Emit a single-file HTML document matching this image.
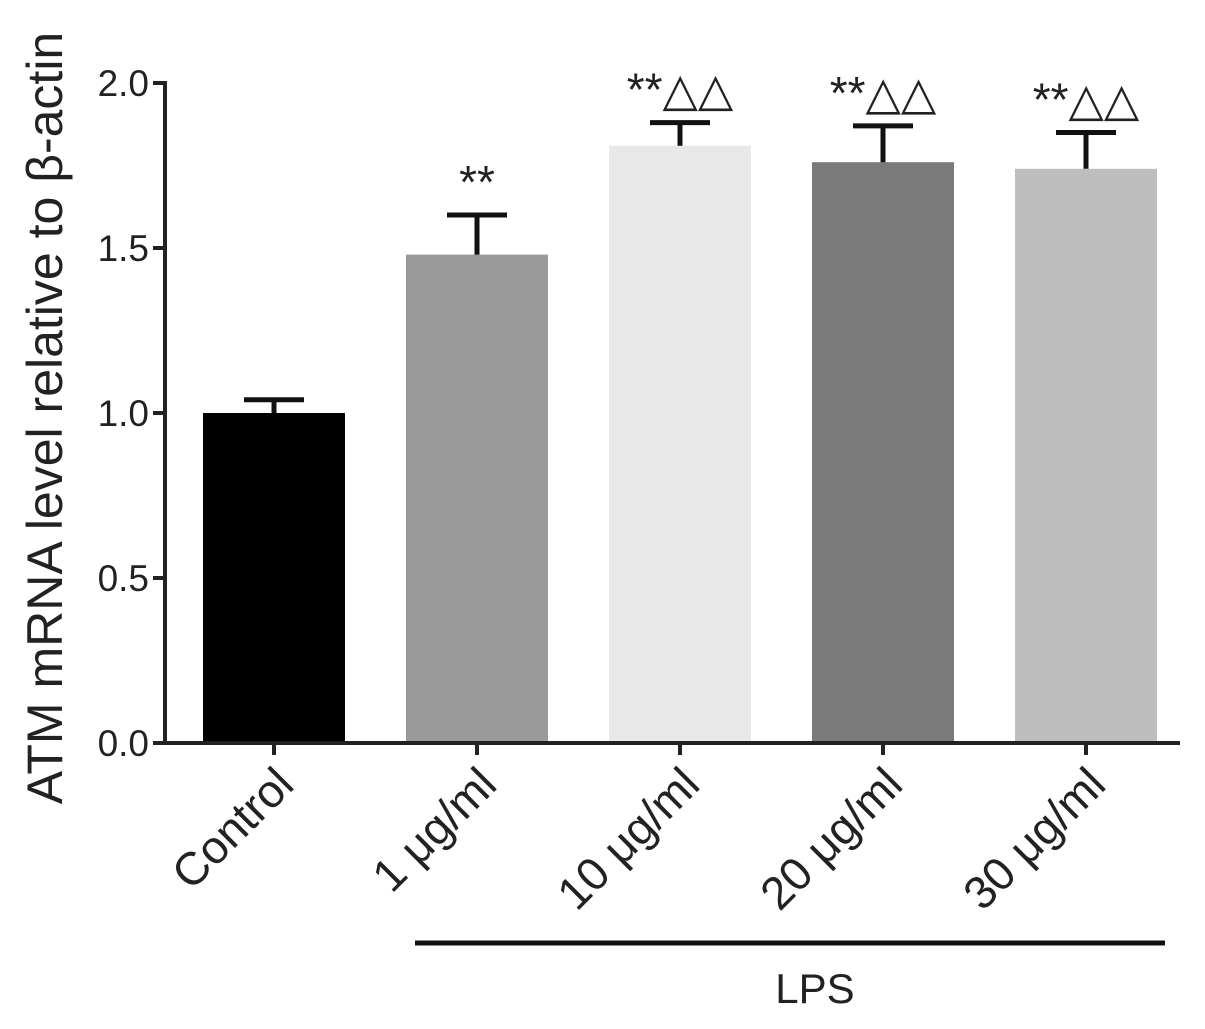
<!DOCTYPE html>
<html><head><meta charset="utf-8"><style>
body{margin:0;background:#fff;width:1205px;height:1024px;overflow:hidden}
svg text{font-family:"Liberation Sans","DejaVu Sans",sans-serif;fill:#222}
</style></head><body>
<svg id="chart" width="1205" height="1024"></svg>
<script>
const categories=["Control","1 μg/ml","10 μg/ml","20 μg/ml","30 μg/ml"];
const values=[1.0,1.48,1.81,1.76,1.74];
const errors=[0.04,0.12,0.07,0.11,0.11];
const annotations=["","**","**△△","**△△","**△△"];
const yTicks=[0.0,0.5,1.0,1.5,2.0];
const yTickLabels=["0.0","0.5","1.0","1.5","2.0"];
const colors=["#000000","#9a9a9a","#e8e8e8","#7a7a7a","#bebebe"];
const NS="http://www.w3.org/2000/svg";
const svg=document.getElementById('chart');
const x0=165,y0=743,pxPerUnit=330,barW=142,step=203,firstX=203;
const yScale=v=>y0-v*pxPerUnit;
const xScale=i=>firstX+i*step;
function mk(t,a,parent){const e=document.createElementNS(NS,t);for(const k in a)e.setAttribute(k,a[k]);(parent||svg).appendChild(e);return e;}
let e=mk('line',{x1:x0,y1:yScale(2.0)-2,x2:x0,y2:y0+2,stroke:'#222','stroke-width':4});


e=mk('line',{x1:x0-2,y1:y0,x2:1180,y2:y0,stroke:'#222','stroke-width':4});


yTicks.forEach((v,i)=>{
 let t=mk('line',{x1:x0-12,y1:yScale(v),x2:x0,y2:yScale(v),stroke:'#222','stroke-width':4});
 
 
 let l=mk('text',{x:x0-16,y:yScale(v)+13,'text-anchor':'end','font-size':37,fill:'#333'});
 l.textContent=yTickLabels[i];
 
 
});
categories.forEach((c,i)=>{
 const x=xScale(i),cx=x+barW/2;
 let b=mk('rect',{x:x,y:yScale(values[i]),width:barW,height:y0-yScale(values[i])-2,fill:colors[i]});
 
 
 const top=yScale(values[i]+errors[i]);
 let eb=mk('path',{d:`M${cx} ${yScale(values[i])} V${top} M${cx-30} ${top} H${cx+30}`,stroke:'#111','stroke-width':5,fill:'none'});
 
 
 let tk=mk('line',{x1:cx,y1:y0,x2:cx,y2:y0+12,stroke:'#222','stroke-width':4});
 
 
 let lb=mk('text',{x:cx+22,y:y0+44,'text-anchor':'end','font-size':46,fill:'#333',transform:`rotate(-45 ${cx+22} ${y0+44})`});
 lb.textContent=c;
 
 
 if(annotations[i]){
  let a=mk('text',{x:cx,y:top-17,'text-anchor':'middle','font-size':46});
  a.textContent=annotations[i];
  
  
 }
});
e=mk('line',{x1:415,y1:943,x2:1165,y2:943,stroke:'#111','stroke-width':5});


e=mk('text',{x:815,y:1003,'text-anchor':'middle','font-size':42,fill:'#333'});
e.textContent='LPS';


e=mk('text',{x:0,y:0,'text-anchor':'middle','font-size':50,fill:'#333',transform:'translate(62 418) rotate(-90)'});
e.textContent='ATM mRNA level relative to β-actin';


</script>
</body></html>
